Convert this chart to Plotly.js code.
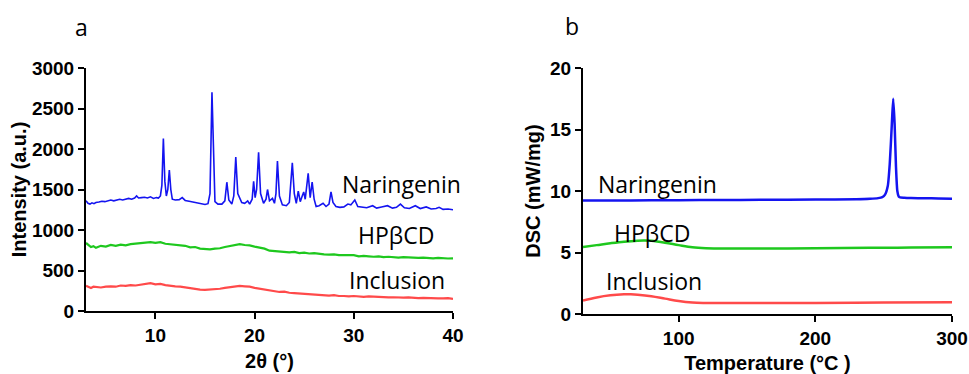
<!DOCTYPE html>
<html>
<head>
<meta charset="utf-8">
<script src="https://cdn.plot.ly/plotly-3.0.1.min.js"></script>
<style>html,body{margin:0;padding:0;background:#fff;}#chart{width:969px;height:374px;}</style>
</head>
<body>
<div id="chart"></div>
<script>
// ---- Panel a: XRD ----
const xrdNarX = [3.0,3.2,3.4,3.6,3.8,4.0,4.3,4.6,4.9,5.2,5.5,5.8,6.1,6.4,6.7,7.0,7.3,7.6,7.9,8.1,8.3,8.6,8.9,9.2,9.5,9.8,10.1,10.3,10.5,10.65,10.8,10.95,11.1,11.25,11.4,11.55,11.7,12.0,12.4,12.7,13.0,13.4,13.8,14.2,14.6,15.0,15.3,15.5,15.7,15.85,16.0,16.3,16.7,17.0,17.2,17.4,17.7,17.9,18.1,18.3,18.5,18.7,19.0,19.3,19.5,19.75,19.9,20.05,20.2,20.4,20.6,20.9,21.15,21.3,21.5,21.8,22.0,22.15,22.3,22.5,22.8,23.2,23.5,23.8,24.0,24.2,24.4,24.6,24.8,24.95,25.1,25.4,25.6,25.8,26.0,26.2,26.5,26.9,27.2,27.5,27.7,27.9,28.2,28.6,29.0,29.4,29.7,30.1,30.4,30.8,31.3,31.9,32.3,32.8,33.4,33.9,34.3,34.7,35.1,35.6,36.2,36.7,37.3,37.8,38.3,38.6,39.0,39.5,40.0];
const xrdNarY = [1360,1330,1320,1335,1325,1340,1345,1355,1350,1365,1370,1360,1375,1380,1370,1385,1390,1380,1395,1420,1395,1400,1405,1395,1410,1390,1400,1395,1420,1550,2130,1600,1420,1500,1740,1500,1380,1370,1375,1400,1365,1355,1345,1330,1320,1315,1325,1450,2700,1800,1350,1320,1320,1360,1590,1370,1320,1420,1900,1450,1400,1340,1330,1360,1320,1380,1600,1400,1500,1960,1450,1330,1380,1500,1360,1390,1330,1450,1850,1420,1310,1300,1340,1830,1450,1330,1480,1350,1420,1470,1380,1700,1400,1590,1380,1290,1300,1330,1290,1320,1470,1340,1290,1280,1285,1320,1310,1370,1290,1280,1275,1300,1270,1285,1300,1270,1280,1320,1275,1265,1300,1265,1285,1260,1265,1280,1255,1260,1250];

const xrdBgX = [3.0,3.25,3.5,3.75,4.0,4.5,5.0,5.5,6.0,6.5,7.0,7.5,8.0,8.5,9.0,9.5,10.0,10.5,11.0,11.5,12.0,12.5,13.0,13.5,14.0,14.5,15.0,15.5,16.0,16.5,17.0,17.5,18.0,18.5,19.0,19.5,20.0,20.5,21.0,21.5,22.0,22.5,23.0,23.5,24.0,24.5,25.0,25.5,26.0,26.5,27.0,27.5,28.0,28.5,29.0,29.5,30.0,30.5,31.0,31.5,32.0,32.5,33.0,33.5,34.0,34.5,35.0,35.5,36.0,36.5,37.0,37.5,38.0,38.5,39.0,39.5,40.0];
const xrdHpY = [840,810,790,800,780,805,795,815,805,820,810,825,830,840,845,850,840,850,830,825,815,810,805,785,790,770,765,760,770,775,790,800,815,825,815,810,795,785,770,745,740,735,730,725,730,715,720,710,715,705,700,695,700,690,690,685,690,675,680,675,670,675,665,670,665,660,665,660,660,655,660,655,650,655,650,648,650];
const xrdIncY = [310,295,285,300,295,290,300,305,300,315,310,320,315,325,330,345,330,335,320,310,305,300,290,280,270,265,260,262,265,275,285,295,300,310,305,300,285,275,265,255,240,235,240,225,220,215,210,205,205,200,195,190,195,185,185,180,185,180,175,180,175,170,172,168,170,165,165,168,162,160,163,158,160,157,155,158,150];

// ---- Panel b: DSC ----
const dscNarX = [30,50,80,100,130,160,200,230,240,246,249,251,253,254.5,256,257,258,259,260,261,262,265,270,280,290,300];
const dscNarY = [9.22,9.22,9.24,9.25,9.27,9.28,9.3,9.32,9.36,9.42,9.5,9.7,10.4,12.3,15.5,17.5,15.5,12,10,9.55,9.48,9.45,9.43,9.41,9.4,9.38];
const dscHpX = [30,40,50,60,70,75,80,90,100,110,120,140,170,200,240,270,300];
const dscHpY = [5.45,5.6,5.75,5.88,5.96,5.97,5.95,5.8,5.6,5.42,5.35,5.33,5.33,5.34,5.38,5.4,5.42];
const dscIncX = [30,40,50,60,65,70,80,90,100,110,120,150,200,250,300];
const dscIncY = [1.1,1.35,1.52,1.6,1.6,1.57,1.45,1.25,1.05,0.93,0.9,0.9,0.9,0.93,0.95];

// ---- tick labels ----
const xrdXTicks = [10,20,30,40];
const xrdYTicks = [0,500,1000,1500,2000,2500,3000];
const dscXTicks = [100,200,300];
const dscYTicks = [0,5,10,15,20];

const seriesNames = ['Naringenin','HPβCD','Inclusion'];
const colors = ['#1414f0','#1ec81e','#ff4a4a'];

const traces = [
  {x: xrdNarX, y: xrdNarY, xaxis:'x', yaxis:'y', line:{color:colors[0], width:1.6}},
  {x: xrdBgX, y: xrdHpY, xaxis:'x', yaxis:'y', line:{color:colors[1], width:2.2}},
  {x: xrdBgX, y: xrdIncY, xaxis:'x', yaxis:'y', line:{color:colors[2], width:2.2}},
  {x: dscNarX, y: dscNarY, xaxis:'x2', yaxis:'y2', line:{color:colors[0], width:2.5, shape:'spline', smoothing:0.6}},
  {x: dscHpX, y: dscHpY, xaxis:'x2', yaxis:'y2', line:{color:colors[1], width:2.5, shape:'spline'}},
  {x: dscIncX, y: dscIncY, xaxis:'x2', yaxis:'y2', line:{color:colors[2], width:2.5, shape:'spline'}}
].map(t => Object.assign({type:'scatter', mode:'lines', showlegend:false, hoverinfo:'skip'}, t));

const FAM = 'Liberation Sans, Arial, Helvetica, sans-serif';
const tickFont = {family:FAM, size:19, color:'#000'};
const titleFont = {family:FAM, size:20, color:'#000'};
const bold = arr => arr.map(v => '<b>' + v + '</b>');
const axBase = {showgrid:false, zeroline:false, showline:true, linecolor:'#000', linewidth:2,
  ticks:'outside', ticklen:6, tickwidth:2, tickcolor:'#000', tickfont:tickFont, fixedrange:true, tickmode:'array'};

const W = 969, H = 374, ML = 86, MR = 17, MT = 68, MB = 60;
const PW = W - ML - MR, PH = H - MT - MB;
const px = v => (v - ML) / PW;
const py = v => (H - MB - v) / PH;
const lblFont = {family:'Open Sans, sans-serif', size:23, color:'#000'};
function lab(text, xpix, ypix){ return {text:text, xref:'paper', yref:'paper', x:(xpix-ML)/PW, y:(H-MB-ypix)/PH, xanchor:'center', yanchor:'middle', showarrow:false, font:lblFont}; }

const layout = {
  width: W, height: H,
  margin: {l:ML, r:MR, t:MT, b:MB},
  paper_bgcolor:'#fff', plot_bgcolor:'#fff',
  xaxis: Object.assign({}, axBase, {domain:[0, px(453)], range:[3,40], tickvals:xrdXTicks, ticktext:bold(xrdXTicks), anchor:'y',
    title:{text:'<b>2θ (°)</b>', font:titleFont, standoff:9}}),
  yaxis: Object.assign({}, axBase, {domain:[py(311), 1], range:[0,3000], tickvals:xrdYTicks, ticktext:bold(xrdYTicks), anchor:'x',
    title:{text:'<b>Intensity (a.u.)</b>', font:titleFont, standoff:0}}),
  xaxis2: Object.assign({}, axBase, {domain:[px(583), 1], range:[30,300], tickvals:dscXTicks, ticktext:bold(dscXTicks), anchor:'y2',
    title:{text:'<b>Temperature (°C )</b>', font:titleFont, standoff:9}}),
  yaxis2: Object.assign({}, axBase, {domain:[0, 1], range:[0,20], tickvals:dscYTicks, ticktext:bold(dscYTicks), anchor:'x2',
    title:{text:'<b>DSC (mW/mg)</b>', font:titleFont, standoff:4}}),
  annotations: [
    lab(seriesNames[0], 401, 184), lab(seriesNames[1], 396, 235), lab(seriesNames[2], 397, 280),
    lab(seriesNames[0], 657, 184), lab(seriesNames[1], 652, 233), lab(seriesNames[2], 654, 281),
    {text:'a', xref:'paper', yref:'paper', x:px(81), y:(H-MB-27)/PH, xanchor:'center', yanchor:'middle', showarrow:false, font:{family:'Open Sans, sans-serif', size:23, color:'#000'}},
    {text:'b', xref:'paper', yref:'paper', x:px(572), y:(H-MB-26)/PH, xanchor:'center', yanchor:'middle', showarrow:false, font:{family:'Open Sans, sans-serif', size:23, color:'#000'}}
  ]
};

Plotly.newPlot('chart', traces, layout, {displayModeBar:false, staticPlot:true});
</script>
</body>
</html>
